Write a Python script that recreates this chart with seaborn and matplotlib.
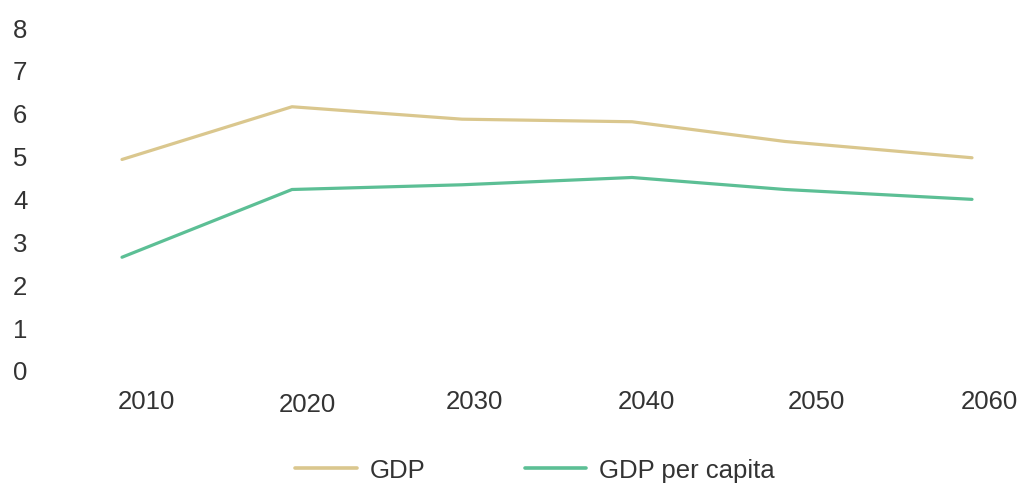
import matplotlib
matplotlib.use("Agg")
import matplotlib.pyplot as plt
import matplotlib.transforms as mtransforms
from matplotlib.lines import Line2D
import pandas as pd
import seaborn as sns

years = [2010, 2020, 2030, 2040, 2049, 2060]
gdp = [4.91, 6.14, 5.85, 5.79, 5.33, 4.95]
gdp_per_capita = [2.63, 4.21, 4.32, 4.49, 4.21, 3.98]
series_names = ["GDP", "GDP per capita"]
x_ticks = [2010, 2020, 2030, 2040, 2050, 2060]
y_ticks = [0, 1, 2, 3, 4, 5, 6, 7, 8]

colors = ["#dac78e", "#5cbf95"]
text_color = "#333333"
FS = 18.5

df = pd.DataFrame({
    "year": years * 2,
    "value": gdp + gdp_per_capita,
    "series": [series_names[0]] * len(years) + [series_names[1]] * len(years),
})

sns.set_style("white")
plt.rcParams["font.family"] = ["Liberation Sans", "DejaVu Sans"]

W, H = 1020, 485
fig = plt.figure(figsize=(W / 100, H / 100), dpi=100)
ax = fig.add_axes([122 / W, (H - 371) / H, (972 - 122) / W, (371 - 28) / H])

sns.lineplot(data=df, x="year", y="value", hue="series", palette=colors,
             linewidth=2.3, ax=ax, legend=False, clip_on=False)

ax.set_xlim(2010, 2060)
ax.set_ylim(0, 8)
ax.set_xticks(x_ticks)
ax.set_xticklabels([str(t) for t in x_ticks])
ax.set_yticks(y_ticks)
ax.set_yticklabels([str(t) for t in y_ticks])
ax.set_xlabel("")
ax.set_ylabel("")
for s in ax.spines.values():
    s.set_visible(False)
ax.tick_params(axis="both", length=0, labelsize=FS, colors=text_color)
ax.tick_params(axis="x", pad=14)
ax.tick_params(axis="y", pad=78.5)
for lab in ax.get_yticklabels():
    lab.set_ha("left")

# label offsets in pixels (dx, dy) to mimic the reference placement
label_dx = [24, 15, 12, 14, 14, 17]
label_dy = [0, -3, 0, 0, 0, 0]
for lab, dx, dy in zip(ax.get_xticklabels(), label_dx, label_dy):
    off = mtransforms.ScaledTranslation(dx / 100, dy / 100, fig.dpi_scale_trans)
    lab.set_transform(lab.get_transform() + off)

handles = [Line2D([0], [0], color=c, linewidth=2.6) for c in colors]
fig.legend(handles, series_names, loc="center", bbox_to_anchor=(535 / W, (H - 471) / H),
           ncol=2, frameon=False, fontsize=FS, handlelength=2.4,
           handletextpad=0.5, columnspacing=3.85, labelcolor=text_color)

fig.savefig("out.png", dpi=100, facecolor="white")
